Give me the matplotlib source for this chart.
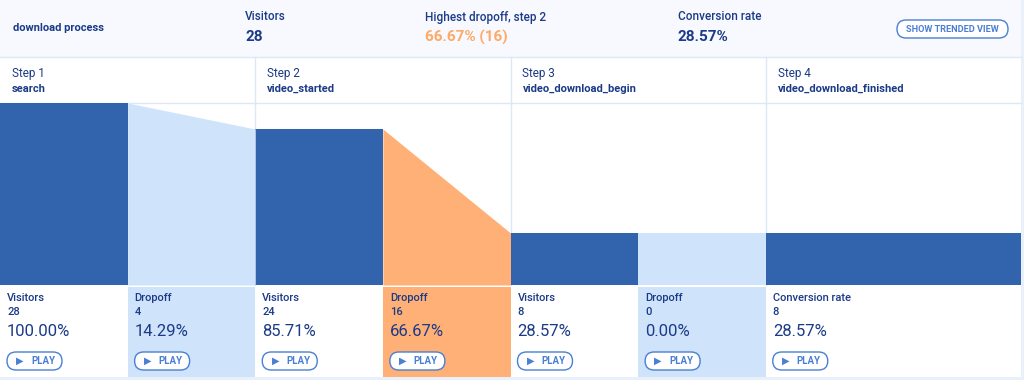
import numpy as np
import matplotlib
matplotlib.use("Agg")
import matplotlib.pyplot as plt
from matplotlib.patches import FancyBboxPatch, Rectangle

plt.rcParams['font.family'] = ['Roboto', 'DejaVu Sans']

# funnel data
funnel_name = "download process"
step_labels = ["Step 1", "Step 2", "Step 3", "Step 4"]
step_events = ["search", "video_started", "video_download_begin", "video_download_finished"]
visitors = [28, 24, 8, 8]
dropoff = [4, 16, 0]
visitor_pct = ["100.00%", "85.71%", "28.57%", "28.57%"]
dropoff_pct = ["14.29%", "66.67%", "0.00%"]
highest_step = 2
highest_text = "66.67% (16)"
conversion_text = "28.57%"

NAVY = "#1b3a87"
BAR = "#3264ae"
LIGHT = "#cfe4fb"
ORANGE = "#ffb077"
LINE = "#dde8f7"
BTN = "#4a7fd4"

W, H = 1024, 380
fig = plt.figure(figsize=(W / 100, H / 100), dpi=100)
fig.patch.set_facecolor("#eaf0f9")

# background / text layer in pixel coords
bg = fig.add_axes([0, 0, 1, 1], zorder=0)
bg.set_xlim(0, W)
bg.set_ylim(H, 0)
bg.axis("off")

card_r, card_b = 1021, 377
col_w = card_r / 4
bg.add_patch(Rectangle((0, 0), card_r, card_b, fc="white", ec="none"))
bg.add_patch(Rectangle((0, 0), card_r, 57, fc="#f7f9fe", ec="none"))
bg.plot([0, card_r], [57, 57], color=LINE, lw=1)
bg.plot([0, card_r], [103, 103], color=LINE, lw=1)
for i in range(1, 4):
    bg.plot([i * col_w, i * col_w], [57, 285], color=LINE, lw=1)

# header
bg.text(13, 28, funnel_name, color=NAVY, fontsize=8, fontweight="bold", va="center")
bg.text(245, 17, "Visitors", color=NAVY, fontsize=8.5, fontweight="medium", va="center")
bg.text(245, 37, str(visitors[0]), color=NAVY, fontsize=11, fontweight="bold", va="center")
bg.text(425, 17, "Highest dropoff, step %d" % highest_step, color=NAVY, fontsize=8.5,
        fontweight="medium", va="center")
bg.text(425, 37, highest_text, color="#ffa966", fontsize=11, fontweight="bold", va="center")
bg.text(678, 17, "Conversion rate", color=NAVY, fontsize=8.5, fontweight="medium", va="center")
bg.text(678, 37, conversion_text, color=NAVY, fontsize=11, fontweight="bold", va="center")
bg.add_patch(FancyBboxPatch((897, 20), 111, 18, boxstyle="round,pad=0,rounding_size=9",
                            fc="white", ec=BTN, lw=1))
bg.text(952.5, 29, "SHOW TRENDED VIEW", color=BTN, fontsize=6.6, fontweight="bold",
        ha="center", va="center")

for i in range(4):
    x0 = i * col_w + 12
    bg.text(x0, 73, step_labels[i], color=NAVY, fontsize=8.5, va="center")
    bg.text(x0, 89, step_events[i], color=NAVY, fontsize=8, fontweight="bold", va="center")

# funnel chart
top, bot = 103, 285
ax = fig.add_axes([0, 1 - bot / H, card_r / W, (bot - top) / H], zorder=1)
ax.patch.set_alpha(0)
ax.set_xlim(0, 8)
ax.set_ylim(0, max(visitors))
ax.axis("off")

vis_x = [0, 2, 4, 6]
vis_w = [1, 1, 1, 2]
ax.bar(vis_x, visitors, width=vis_w, align="edge", color=BAR, edgecolor="none")
for i in range(3):
    xs = [vis_x[i] + 1, vis_x[i] + 2]
    ys = [visitors[i], visitors[i + 1]]
    c = ORANGE if i + 1 == highest_step else LIGHT
    ax.fill_between(xs, 0, ys, color=c, lw=0)

# stats row
half = col_w / 2
cells = []
for i in range(4):
    cells.append(("Visitors" if i < 3 else "Conversion rate", visitors[i], visitor_pct[i], "white"))
    if i < 3:
        c = ORANGE if i + 1 == highest_step else LIGHT
        cells.append(("Dropoff", dropoff[i], dropoff_pct[i], c))

for k, (lab, n, pct, c) in enumerate(cells):
    x0 = k * half
    if c != "white":
        bg.add_patch(Rectangle((x0, 287), half, card_b - 287, fc=c, ec="none"))
    tx = x0 + 7
    bg.text(tx, 298, lab, color=NAVY, fontsize=8, fontweight="medium", va="center")
    bg.text(tx, 312, str(n), color=NAVY, fontsize=8, fontweight="medium", va="center")
    bg.text(tx, 332, pct, color=NAVY, fontsize=12, va="center")
    bg.add_patch(FancyBboxPatch((tx, 352), 55, 18, boxstyle="round,pad=0,rounding_size=9",
                                fc="white", ec=BTN, lw=1))
    bg.text(tx + 13, 361, "\u25b6", color=BTN, fontsize=7, ha="center", va="center",
            family=["DejaVu Sans"])
    bg.text(tx + 24, 361, "PLAY", color=BTN, fontsize=7, fontweight="bold", va="center")

fig.savefig("out.png", dpi=100)
